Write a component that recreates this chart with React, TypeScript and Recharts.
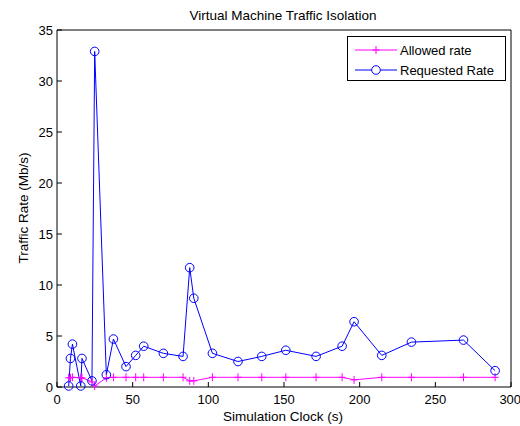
import React from "react";
import { LineChart, Line, XAxis, YAxis, Legend, Label } from "recharts";

// sample times (s)
const times = [
  7.7, 8.9, 10.2, 15.7, 16.5, 23.1, 24.9, 32.6, 37.3, 45.6, 52.0, 57.3, 70.3, 83.3,
  87.7, 90.4, 102.7, 119.6, 135.3, 151.2, 171.2, 188.4, 196.3, 214.6, 234.2, 268.6, 289.5,
];
const allowedRate = [
  0.9, 0.9, 0.95, 0.9, 0.9, 0.5, 0.1, 0.9, 0.95, 0.95, 0.95, 0.95, 0.95, 0.95,
  0.6, 0.6, 0.95, 0.95, 0.95, 0.95, 0.95, 0.95, 0.7, 0.95, 0.95, 0.95, 0.95,
];
const requestedRate = [
  0.1, 2.8, 4.2, 0.1, 2.8, 0.6, 32.9, 1.2, 4.7, 2.0, 3.1, 4.0, 3.3, 3.0,
  11.7, 8.7, 3.3, 2.5, 3.0, 3.6, 3.0, 4.0, 6.4, 3.1, 4.4, 4.6, 1.6,
];
const xTicks = [0, 50, 100, 150, 200, 250, 300];
const yTicks = [0, 5, 10, 15, 20, 25, 30, 35];

const rows = times.map((t, i) => ({ t, allowed: allowedRate[i], requested: requestedRate[i] }));

const FONT = '"Liberation Sans", Arial, sans-serif';
const MAGENTA = "#ff00ff";
const BLUE = "#0000ff";

const PlusDot = (props: any) => {
  const { cx, cy, index } = props;
  if (cx == null || cy == null) return null;
  return (
    <path
      key={`p-${index}`}
      d={`M${cx - 3.5},${cy}h7M${cx},${cy - 4}v8`}
      stroke={MAGENTA}
      strokeWidth={1}
      fill="none"
    />
  );
};

const LegendBox = () => (
  <div
    style={{
      width: 159,
      height: 45,
      boxSizing: "border-box",
      border: "1px solid #000",
      background: "#fff",
      fontFamily: FONT,
      fontSize: 13,
      color: "#000",
      position: "relative",
    }}
  >
    <svg width={157} height={43} style={{ position: "absolute", left: 0, top: 0 }}>
      <line x1={7} x2={49} y1={13} y2={13} stroke={MAGENTA} />
      <path d="M24.5,13h7M28,9v8" stroke={MAGENTA} fill="none" />
      <line x1={7} x2={49} y1={33} y2={33} stroke={BLUE} />
      <circle cx={28} cy={33} r={4.3} stroke={BLUE} fill="#fff" />
      <text x={52} y={18} fontSize={13} fontFamily={FONT} fill="#000">Allowed rate</text>
      <text x={52} y={38} fontSize={13} fontFamily={FONT} fill="#000">Requested Rate</text>
    </svg>
  </div>
);

export default function App() {
  const tickStyle = { fill: "#000", fontSize: 13, fontFamily: FONT };
  return (
    <div style={{ position: "absolute", left: 0, top: 0, background: "#fff" }}>
      <LineChart width={520} height={426} data={rows} margin={{ top: 29, right: 8, bottom: 0, left: 0 }}>
        <XAxis
          xAxisId="b"
          dataKey="t"
          type="number"
          domain={[0, 300]}
          ticks={xTicks}
          height={39}
          stroke="#000"
          tickSize={-5}
          tickMargin={13}
          tick={tickStyle}
        >
          <Label
            content={() => (
              <text x={283} y={421} textAnchor="middle" fontSize={13.5} fontFamily={FONT} fill="#000">
                Simulation Clock (s)
              </text>
            )}
          />
        </XAxis>
        <XAxis
          xAxisId="t"
          orientation="top"
          dataKey="t"
          type="number"
          domain={[0, 300]}
          ticks={xTicks}
          height={1}
          stroke="#000"
          tickSize={-5}
          tick={false}
        >
          <Label
            content={() => (
              <text x={283} y={20} textAnchor="middle" fontSize={13.5} fontFamily={FONT} fill="#000">
                Virtual Machine Traffic Isolation
              </text>
            )}
          />
        </XAxis>
        <YAxis
          yAxisId="l"
          type="number"
          domain={[0, 35]}
          ticks={yTicks}
          width={57}
          stroke="#000"
          tickSize={-5}
          tickMargin={9}
          tick={tickStyle}
        >
          <Label
            content={() => (
              <text
                x={28}
                y={208}
                transform="rotate(-90 28 208)"
                textAnchor="middle"
                fontSize={13.5}
                fontFamily={FONT}
                fill="#000"
              >
                Traffic Rate (Mb/s)
              </text>
            )}
          />
        </YAxis>
        <YAxis
          yAxisId="r"
          orientation="right"
          type="number"
          domain={[0, 35]}
          ticks={yTicks}
          width={1}
          stroke="#000"
          tickSize={-5}
          tick={false}
        />
        <Legend
          layout="horizontal"
          verticalAlign="middle"
          align="center"
          content={() => <LegendBox />}
          wrapperStyle={{ top: 36, left: 347, width: 159, height: 45 }}
        />
        <Line
          xAxisId="b"
          yAxisId="l"
          type="linear"
          dataKey="allowed"
          name="Allowed rate"
          stroke={MAGENTA}
          strokeWidth={1}
          dot={PlusDot}
          activeDot={false}
          isAnimationActive={false}
        />
        <Line
          xAxisId="b"
          yAxisId="l"
          type="linear"
          dataKey="requested"
          name="Requested Rate"
          stroke={BLUE}
          strokeWidth={1}
          dot={{ r: 4.3, stroke: BLUE, strokeWidth: 1, fill: "none" }}
          activeDot={false}
          isAnimationActive={false}
        />
      </LineChart>
    </div>
  );
}
